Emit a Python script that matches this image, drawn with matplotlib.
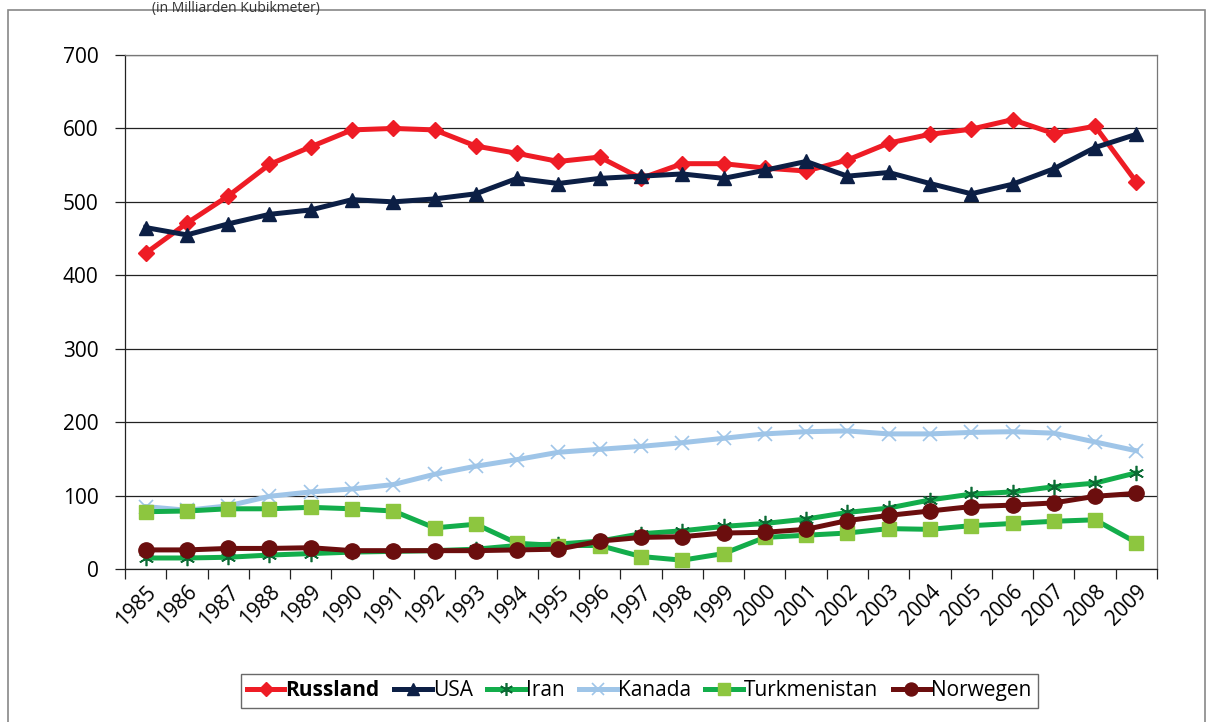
import numpy as np
import matplotlib
matplotlib.use("Agg")
import matplotlib.pyplot as plt
from matplotlib.patches import Rectangle

plt.rcParams["font.family"] = ["Open Sans", "DejaVu Sans"]

# -- data --
years = [str(y) for y in range(1985, 2010)]

russland = [430, 471, 508, 551, 575, 598, 600, 598, 576, 566, 555, 561, 532,
            552, 552, 546, 542, 557, 580, 592, 599, 612, 593, 603, 527]
usa = [465, 455, 470, 483, 489, 503, 500, 504, 511, 532, 525, 532, 535,
       538, 532, 543, 555, 535, 540, 525, 511, 524, 545, 574, 592]
iran = [15, 15, 16, 19, 21, 23, 24, 25, 27, 32, 34, 38, 48,
        52, 58, 62, 68, 77, 83, 94, 102, 105, 112, 117, 131]
kanada = [85, 80, 86, 99, 105, 109, 115, 129, 140, 149, 159, 163, 167,
          172, 178, 184, 187, 188, 184, 184, 186, 187, 185, 173, 161]
turkmenistan = [78, 79, 82, 82, 84, 82, 79, 56, 61, 35, 32, 32, 17,
                12, 21, 43, 46, 49, 55, 54, 59, 62, 65, 67, 36]
norwegen = [26, 26, 28, 28, 29, 25, 25, 25, 25, 26, 27, 38, 43,
            44, 49, 50, 54, 66, 73, 79, 85, 87, 90, 99, 103]

yticks = [0, 100, 200, 300, 400, 500, 600, 700]

# -- styles --
series = [
    ("Russland", russland, dict(color="#ee1c25", marker="D", mfc="#ee1c25", mec="#ee1c25", ms=8)),
    ("USA", usa, dict(color="#0c1f45", marker="^", mfc="#0c1f45", mec="#0c1f45", ms=10)),
    ("Iran", iran, dict(color="#13ad4b", marker=(6, 2, 0), mfc="#0b6b34", mec="#0b6b34", ms=11, mew=1.2)),
    ("Kanada", kanada, dict(color="#9fc5e8", marker="x", mfc="#9fc5e8", mec="#9fc5e8", ms=10, mew=1.2)),
    ("Turkmenistan", turkmenistan, dict(color="#13ad4b", marker="s", mfc="#8dc63f", mec="#8dc63f", ms=10)),
    ("Norwegen", norwegen, dict(color="#6b0e0e", marker="o", mfc="#6b0e0e", mec="#6b0e0e", ms=11)),
]

fig = plt.figure(figsize=(12.13, 7.22), dpi=100)
ax = fig.add_axes([125 / 1213, 1 - 569 / 722, 1032 / 1213, 514 / 722])

x = np.arange(len(years))
for i, (name, vals, st) in enumerate(series):
    ax.plot(x, vals, lw=3.6, label=name, zorder=3 + i, **st)

ax.set_xlim(-0.5, len(years) - 0.5)
ax.set_ylim(0, 700)
ax.set_yticks(yticks)
ax.set_yticklabels([str(v) for v in yticks], fontsize=15)
ax.yaxis.grid(True, color="#222222", lw=0.9)
ax.set_axisbelow(True)

ax.set_xticks(x)
ax.set_xticklabels(years, rotation=45, ha="right", rotation_mode="anchor", fontsize=15)
ax.set_xticks(np.arange(-0.5, len(years)), minor=True)
ax.tick_params(axis="x", which="major", length=0, pad=9)
ax.tick_params(axis="x", which="minor", length=7, width=0.9, direction="out", color="#222222")
ax.tick_params(axis="y", length=7, width=0.9, direction="out", color="#222222", pad=12)

for side in ["left", "bottom"]:
    ax.spines[side].set_color("#222222")
    ax.spines[side].set_linewidth(0.9)
for side in ["top", "right"]:
    ax.spines[side].set_color("#777777")
    ax.spines[side].set_linewidth(0.9)

leg = fig.legend(loc="center", bbox_to_anchor=(0.527, 0.043), ncol=6, fontsize=15,
                 frameon=True, fancybox=False, handlelength=1.8, handletextpad=0.05,
                 columnspacing=0.7, borderpad=0.3, markerscale=0.85)
leg.get_frame().set_edgecolor("#444444")
leg.get_frame().set_linewidth(1.0)
for t in leg.get_texts():
    if t.get_text() == "Russland":
        t.set_fontweight("bold")

# outer chart frame
fig.patches.append(Rectangle((8 / 1213, -0.05), 1197 / 1213, 1.05 - 10 / 722,
                             transform=fig.transFigure, fill=False,
                             edgecolor="#888888", lw=1.2))

fig.text(0.125, 1 - 1 / 722, "(in Milliarden Kubikmeter)", fontsize=10,
         ha="left", va="top", color="#333333")

fig.savefig("out.png", dpi=100)
